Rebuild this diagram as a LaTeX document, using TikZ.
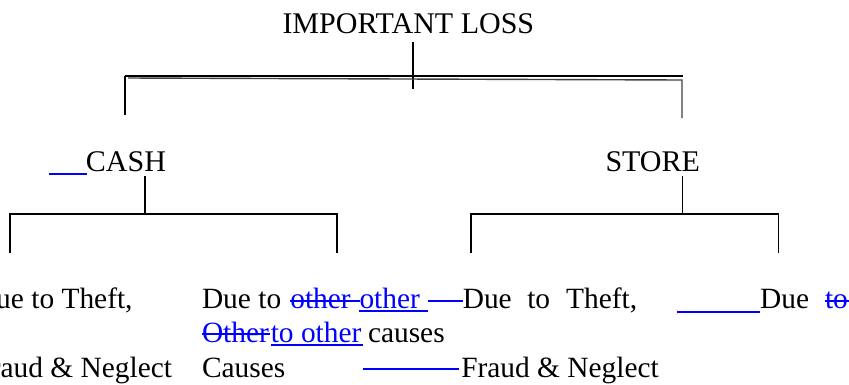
\documentclass[tikz,border=0pt]{standalone}
\usepackage{fontspec}
\setmainfont{Liberation Serif}
\begin{document}
\begin{tikzpicture}[x=1pt,y=-1pt,
  txt/.style={inner sep=0pt,outer sep=0pt,anchor=base west,font=\fontsize{29.4}{34}\selectfont},
  head/.style={txt,font=\fontsize{30}{34}\selectfont},
  ins/.style={txt,text=blue},
  wire/.style={draw=black,line width=1.5pt},
  chg/.style={draw=blue,line width=2pt}]
\useasboundingbox (0,0) rectangle (849,384);
\clip (0,0) rectangle (849,384);

% ---- headings
\node[head] (loss)  at (282.5,33)  {IMPORTANT LOSS};
\node[head] (cash)  at (85.9,171)  {CASH};
\node[head] (store) at (605.5,171) {STORE};

% ---- leaf texts, first line
\node[txt] (lt1) at (-25,308.5)   {Due to Theft,};
\node[txt] (m1a) at (202,308.5)   {Due to};
\node[ins] (m1b) at (290.3,308.5) {other};
\node[ins] (m1c) at (359.5,308.5) {other};
\node[txt] (r1a) at (462.8,308.5) {Due\hspace{15.5pt}to\hspace{16pt}Theft,};
\node[txt] (r1b) at (760.2,308.5) {Due};
\node[ins] (r1c) at (825,308.5)   {to};
% second line
\node[ins] (m2a) at (202,342)     {Other};
\node[ins] (m2b) at (270.8,342)   {to other};
\node[txt] (m2c) at (368,342)     {causes};
% third line
\node[txt] (lt3) at (-25.5,377)   {Fraud \& Neglect};
\node[txt] (m3)  at (202,377)     {Causes};
\node[txt] (r3)  at (461.3,377)   {Fraud \& Neglect};

% ---- revision marks: insertions underlined, deletions struck through
\draw[chg] (49,174.3) -- (86.7,174.3);
\draw[chg] (290.3,300.5) -- (360,300.5);
\draw[chg] (359.3,311.3) -- (427.7,311.3);
\draw[chg] (428.3,300.5) -- (462.8,300.5);
\draw[chg] (677.3,311.5) -- (760,311.5);
\draw[chg] (825,300.5) -- (852,300.5);
\draw[chg] (202,333.8) -- (270,333.8);
\draw[chg] (270.5,345.3) -- (363.3,345.3);
\draw[chg] (363.3,369.3) -- (459.3,369.3);

% ---- tree connectors
\coordinate (losstop) at (413,42);
\coordinate (lossend) at (413,89);
\coordinate (barL)  at (125,76);
\coordinate (barR)  at (683,76);
\coordinate (barLd) at (125,115);
\coordinate (bar2L) at (128,78);
\coordinate (bar2R) at (682,80);
\coordinate (bar2Rd) at (682,118);
\draw[wire] (losstop) -- (lossend);
\draw[draw=black,line width=2pt] (barR) -- (barL);
\draw[wire] (barL) -- (barLd);
\draw[draw=black!75,line width=1.4pt] (bar2L) -- (bar2R) -- (bar2Rd);

\coordinate (cashtop) at (145,176);
\coordinate (cashbar) at (145,214);
\coordinate (cashL)  at (10,214);
\coordinate (cashR)  at (337,214);
\coordinate (cashLd) at (10,253);
\coordinate (cashRd) at (337,253);
\draw[wire] (cashtop) -- (cashbar);
\draw[wire] (cashLd) -- (cashL) -- (cashR) -- (cashRd);

\coordinate (storetop) at (682.3,176);
\coordinate (storebar) at (682.3,214);
\coordinate (storeL)  at (471,214);
\coordinate (storeR)  at (778.7,214);
\coordinate (storeLd) at (471,253);
\coordinate (storeRd) at (778.7,253);
\draw[wire] (storetop) -- (storebar);
\draw[wire] (storeLd) -- (storeL) -- (storeR) -- (storeRd);
\end{tikzpicture}
\end{document}
